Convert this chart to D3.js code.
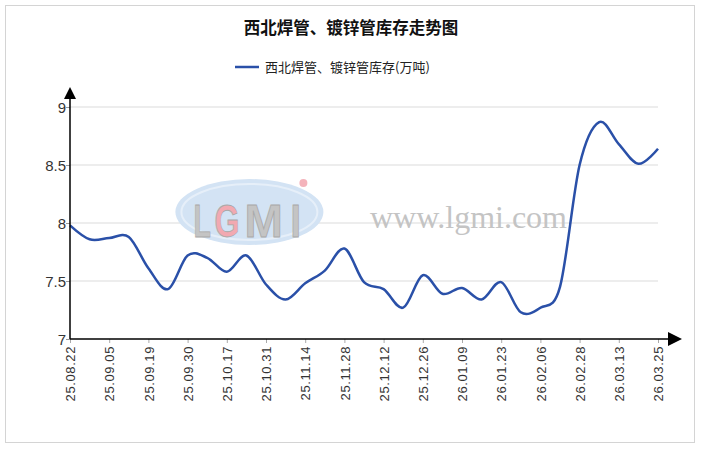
<!DOCTYPE html>
<html>
<head>
<meta charset="utf-8">
<script src="https://cdnjs.cloudflare.com/ajax/libs/d3/7.8.5/d3.min.js"></script>
<style>
  body { margin: 0; background: #fff; }
  svg { display: block; }
</style>
</head>
<body>
<div id="chart"></div>
<script>
(function() {

    // data, one point per week
    var dates = ["25.08.22","25.08.29","25.09.05","25.09.12","25.09.19","25.09.26","25.09.30","25.10.10",
                 "25.10.17","25.10.24","25.10.31","25.11.07","25.11.14","25.11.21","25.11.28","25.12.05",
                 "25.12.12","25.12.19","25.12.26","26.01.02","26.01.09","26.01.16","26.01.23","26.01.30",
                 "26.02.06","26.02.13","26.02.28","26.03.06","26.03.13","26.03.20","26.03.25"];
    var stock = [7.98, 7.86, 7.87, 7.88, 7.61, 7.43, 7.72, 7.70,
                 7.58, 7.72, 7.47, 7.34, 7.48, 7.59, 7.78, 7.49,
                 7.43, 7.27, 7.55, 7.39, 7.44, 7.34, 7.49, 7.23,
                 7.27, 7.45, 8.50, 8.87, 8.68, 8.51, 8.64];
    var labelDates = dates.filter(function(d, i) { return i % 2 === 0; });
    var yTicks = [7, 7.5, 8, 8.5, 9];
    var title = "西北焊管、镀锌管库存走势图";
    var seriesName = "西北焊管、镀锌管库存(万吨)";

    var W = 701, H = 450,
        margin = {top: 107, left: 70, right: 43, bottom: 111},
        width = W - margin.left - margin.right,
        height = H - margin.top - margin.bottom;

    var lineColor = "#2a50a8";
    var cjk = "'Noto Sans CJK SC', 'Noto Sans', sans-serif";

    var svg = d3.select("#chart").append("svg")
        .attr("width", W)
        .attr("height", H);

    // outer frame
    svg.append("rect")
        .attr("x", 5.5).attr("y", 5.5)
        .attr("width", 689).attr("height", 437)
        .attr("fill", "#fff")
        .attr("stroke", "#d4d4d4");

    svg.append("text")
        .attr("x", 351).attr("y", 34)
        .attr("text-anchor", "middle")
        .attr("font-family", cjk)
        .attr("font-weight", "bold")
        .attr("font-size", 16.5)
        .attr("fill", "#111")
        .text(title);

    // legend
    svg.append("line")
        .attr("x1", 235).attr("x2", 259)
        .attr("y1", 67).attr("y2", 67)
        .attr("stroke", lineColor).attr("stroke-width", 2.5);
    svg.append("text")
        .attr("x", 265).attr("y", 72)
        .attr("font-family", cjk)
        .attr("font-size", 13)
        .attr("fill", "#222")
        .text(seriesName);

    var g = svg.append("g")
        .attr("transform", "translate(" + margin.left + "," + margin.top + ")");

    var x = d3.scalePoint()
        .domain(dates)
        .range([0, width]);

    var y = d3.scaleLinear()
        .domain([7, 9])
        .range([height, 0]);

    // gridlines
    g.append("g")
        .selectAll("line")
        .data(yTicks.slice(1))
        .enter().append("line")
        .attr("x1", 0).attr("x2", width)
        .attr("y1", function(d) { return y(d); })
        .attr("y2", function(d) { return y(d); })
        .attr("stroke", "#dcdcdc")
        .attr("stroke-width", 1.2);

    // watermark
    var wm = g.append("g").attr("transform", "translate(" + (x(dates[9]) + 3) + "," + (y(8) - 11) + ")");
    wm.append("ellipse")
        .attr("rx", 74).attr("ry", 33)
        .attr("fill", "#d3e3f4");
    wm.append("ellipse")
        .attr("rx", 68).attr("ry", 28)
        .attr("fill", "none").attr("stroke", "#e6eff9").attr("stroke-width", 2);
    // letters: [char, left, horizontal squeeze, fill]
    var logo = [["L", -56, 0.62, "#c4c4c4"], ["G", -35, 0.70, "#f2a9b1"], ["M", -5, 1.0, "#c4c4c4"], ["I", 41, 0.82, "#c4c4c4"]];
    wm.selectAll(".logo")
        .data(logo)
        .enter().append("text")
        .attr("class", "logo")
        .attr("transform", function(d) { return "translate(" + d[1] + ",25) scale(" + d[2] + ",1)"; })
        .attr("font-family", "'Liberation Sans', Arial, sans-serif")
        .attr("font-weight", "bold")
        .attr("font-size", 46)
        .attr("fill", function(d) { return d[3]; })
        .attr("stroke", "#a9a9a9")
        .attr("stroke-width", 0.8)
        .text(function(d) { return d[0]; });
    wm.append("circle")
        .attr("cx", 54).attr("cy", -29).attr("r", 4)
        .attr("fill", "#f4b3bb");

    g.append("text")
        .attr("x", x(dates[15]) + 6)
        .attr("y", y(8) + 5)
        .attr("font-family", "'Liberation Serif', 'DejaVu Serif', serif")
        .attr("font-size", 32)
        .attr("textLength", 197)
        .attr("fill", "#c4c4c4")
        .text("www.lgmi.com");

    // series
    var line = d3.line()
        .x(function(d, i) { return x(dates[i]); })
        .y(function(d) { return y(d); })
        .curve(d3.curveCardinal);

    g.append("path")
        .datum(stock)
        .attr("fill", "none")
        .attr("stroke", lineColor)
        .attr("stroke-width", 2.5)
        .attr("stroke-linejoin", "round")
        .attr("d", line);

    // y axis
    var yAxis = g.append("g")
        .call(d3.axisLeft(y).tickValues(yTicks).tickSize(4).tickFormat(d3.format("")));
    yAxis.select(".domain").remove();
    yAxis.selectAll(".tick line").attr("stroke", "#999");
    yAxis.selectAll("text")
        .attr("x", -4)
        .attr("dy", "0.36em")
        .attr("font-family", "'Liberation Sans', Arial, sans-serif")
        .attr("font-size", 15)
        .attr("fill", "#333");

    // x axis
    var xAxis = g.append("g")
        .attr("transform", "translate(0," + height + ")")
        .call(d3.axisBottom(x).tickValues(labelDates).tickSize(4));
    xAxis.select(".domain").remove();
    xAxis.selectAll(".tick line").attr("stroke", "#aaa");
    xAxis.selectAll("text")
        .attr("transform", "rotate(-90)")
        .attr("text-anchor", "end")
        .attr("x", -7)
        .attr("y", 0)
        .attr("dy", "0.36em")
        .attr("font-family", "'Liberation Sans', Arial, sans-serif")
        .attr("font-size", 13)
        .attr("letter-spacing", 0.6)
        .attr("fill", "#333");

    // axis lines with arrow heads
    g.append("line")
        .attr("x1", 0).attr("x2", 0)
        .attr("y1", height).attr("y2", -12)
        .attr("stroke", "#000").attr("stroke-width", 1.5);
    g.append("path")
        .attr("d", "M-6,-8L6,-8L0,-20Z")
        .attr("fill", "#000");
    g.append("line")
        .attr("x1", 0).attr("x2", width + 12)
        .attr("y1", height).attr("y2", height)
        .attr("stroke", "#000").attr("stroke-width", 1.5);
    g.append("path")
        .attr("d", "M" + (width + 10) + "," + (height - 7) + "L" + (width + 10) + "," + (height + 7) + "L" + (width + 24) + "," + height + "Z")
        .attr("fill", "#000");

})();
</script>
</body>
</html>
